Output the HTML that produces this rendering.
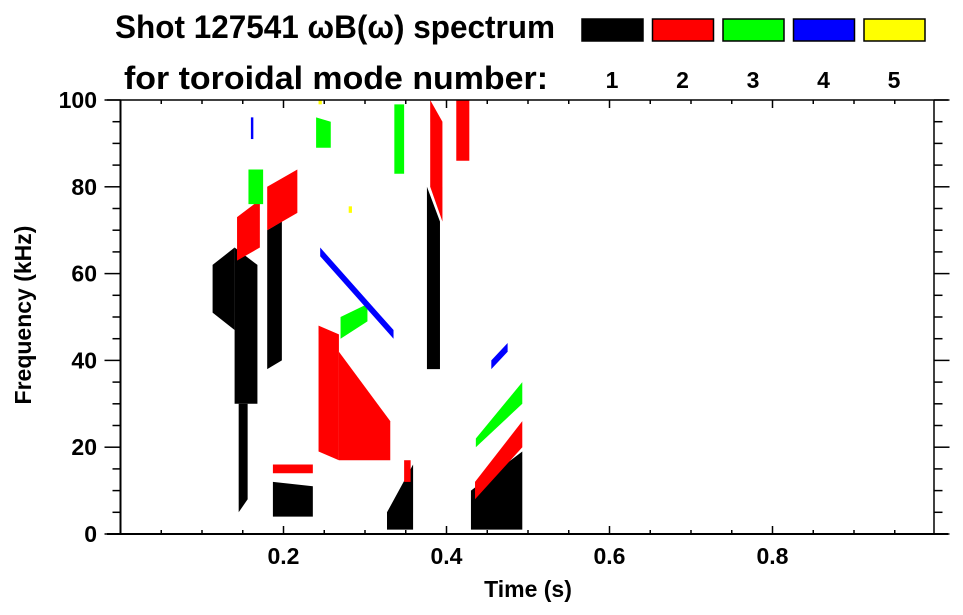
<!DOCTYPE html>
<html><head><meta charset="utf-8"><style>
html,body{margin:0;padding:0;background:#fff;}
svg{display:block;font-family:"Liberation Sans",sans-serif;font-weight:bold;}
</style></head><body>
<svg id="chart" width="963" height="615" viewBox="0 0 963 615" xmlns="http://www.w3.org/2000/svg">
<text x="115" y="38" font-size="32" textLength="440" lengthAdjust="spacingAndGlyphs">Shot 127541 ωB(ω) spectrum</text>
<text x="124" y="89" font-size="32" textLength="424" lengthAdjust="spacingAndGlyphs">for toroidal mode number:</text>
<g id="legend"></g>
<g id="marks"></g>
<g id="axes"></g>
<text x="528" y="597" font-size="23" text-anchor="middle">Time (s)</text>
<text transform="translate(31,315) rotate(-90)" font-size="23" text-anchor="middle">Frequency (kHz)</text>
</svg>
<script>
const modeNumbers = [1, 2, 3, 4, 5];
const modeColors = ["#000000", "#ff0000", "#00ff00", "#0000ff", "#ffff00"];
const xTicks = [0.2, 0.4, 0.6, 0.8];
const yTicks = [0, 20, 40, 60, 80, 100];
// blobs: [tStart, tEnd, fLowStart, fHighStart, fLowEnd, fHighEnd]
const mode1Blobs = [[0.113,0.14,51,62,47,66],[0.14,0.168,30,66,30,62],[0.145,0.156,5,30,8,30],[0.18,0.198,38,70,40,72],[0.187,0.236,4,12,4,11],[0.327,0.359,1,5,1,16],[0.376,0.392,38,80,38,72],[0.43,0.493,1,10,1,19]];
const mode2Blobs = [[0.243,0.268,19,48,17,46],[0.268,0.331,17,42,17,26],[0.143,0.171,63,73,66,77],[0.18,0.217,70,80,74,84],[0.187,0.236,14,16,14,16],[0.38,0.395,80,100,72,95],[0.412,0.428,86,100,86,100],[0.435,0.493,8,12,20,26],[0.348,0.356,12,17,12,17]];
const mode3Blobs = [[0.157,0.175,76,84,76,84],[0.24,0.258,89,96,89,95],[0.336,0.348,83,99,83,99],[0.27,0.303,45,50,49,53],[0.436,0.493,20,22,30,35]];
const mode4Blobs = [[0.245,0.335,64,66,45,47],[0.455,0.475,38,40,42,44],[0.16,0.163,91,96,91,96]];
const mode5Blobs = [[0.28,0.284,74,75.5,74,75.5],[0.243,0.247,99,100,99,100]];
const allBlobs = [mode1Blobs, mode2Blobs, mode3Blobs, mode4Blobs, mode5Blobs];

const NS = "http://www.w3.org/2000/svg";
const X0 = 120.5, X1 = 935.5, Y0 = 534, Y1 = 100;
const xs = t => X0 + t * (X1 - X0);
const ys = f => Y0 - f / 100 * (Y0 - Y1);
function mk(tag, attrs, parent) {
  const e = document.createElementNS(NS, tag);
  for (const k in attrs) e.setAttribute(k, attrs[k]);
  parent.appendChild(e);
  return e;
}
const marks = document.getElementById("marks");
allBlobs.forEach((blobs, m) => {
  blobs.forEach(b => {
    const pts = [[xs(b[0]), ys(b[3])], [xs(b[1]), ys(b[5])], [xs(b[1]), ys(b[4])], [xs(b[0]), ys(b[2])]];
    const p = mk("polygon", {points: pts.map(q => q.join(",")).join(" "), fill: modeColors[m]}, marks);
    
    
  });
});
const legend = document.getElementById("legend");
modeNumbers.forEach((n, i) => {
  const x = 582 + i * 70.5;
  const r = mk("rect", {x: x, y: 19, width: 61, height: 22, fill: modeColors[i], stroke: "#000", "stroke-width": 1.5}, legend);
  
  
  const t = mk("text", {x: x + 30, y: 88, "font-size": 23, "text-anchor": "middle"}, legend);
  t.textContent = n;
  
  
});
const axes = document.getElementById("axes");
const ln = (x1, y1, x2, y2, w, name) => {
  const l = mk("line", {x1, y1, x2, y2, stroke: "#000", "stroke-width": w}, axes);
  
  
};
ln(107, Y0, 948, Y0, 2, "x-axis-line");
ln(107, Y1, 948, Y1, 1.5, "top-axis-line");
ln(X0, Y1, X0, Y0, 2, "y-axis-line");
ln(X1 - 1.5, Y1, X1 - 1.5, Y0, 1.5, "right-axis-line");
for (let i = 1; i < 20; i++) {
  const x = xs(i * 0.05), major = i % 4 === 0;
  ln(x, Y0, x, Y0 - (major ? 8 : 4), 1.5, "x-tick");
  ln(x, Y1, x, Y1 + (major ? 8 : 4), 1.5, "x-top-tick");
}
for (let i = 0; i <= 20; i++) {
  const y = ys(i * 5), major = i % 4 === 0;
  ln(X0, y, X0 - (major ? 16 : 8), y, 1.5, "y-tick");
  ln(X1 - 1.5, y, X1 + (major ? 14 : 7), y, 1.5, "y-right-tick");
}
xTicks.forEach(v => {
  const t = mk("text", {x: xs(v), y: 564, "font-size": 23, "text-anchor": "middle"}, axes);
  t.textContent = v.toFixed(1);
  
  
});
yTicks.forEach(v => {
  const t = mk("text", {x: 97, y: ys(v) + 8, "font-size": 23, "text-anchor": "end"}, axes);
  t.textContent = v;
  
  
});
</script>
</body></html>
